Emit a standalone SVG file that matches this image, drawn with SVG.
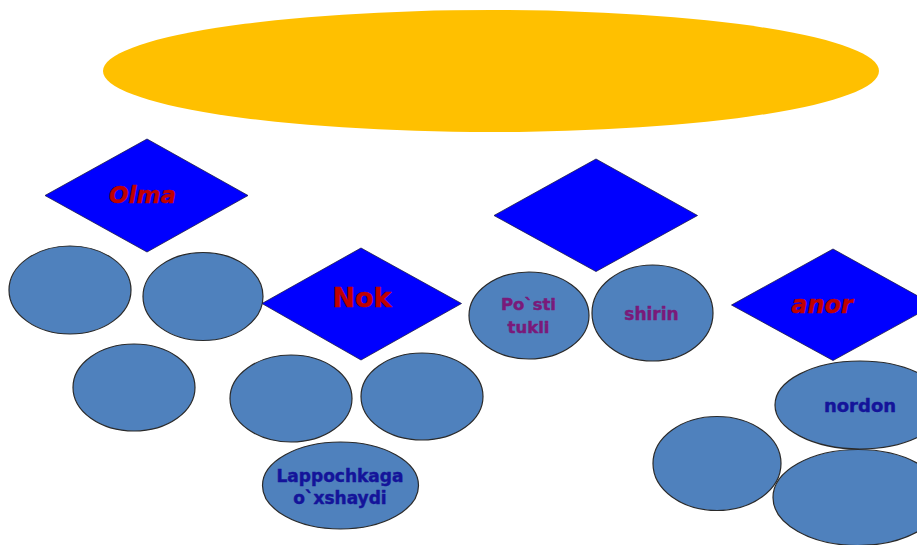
<svg xmlns="http://www.w3.org/2000/svg" width="917" height="545" viewBox="0 0 917 545">
<style>
.dia{fill:#0000ff;stroke:#1a1a4a;stroke-width:0.8}
.ell{fill:#4f81bd;stroke:#2a2a2a;stroke-width:1.2}
.t{font-family:"DejaVu Sans",Verdana,sans-serif;font-weight:bold;text-anchor:middle;stroke-width:0.45;stroke-linejoin:round}
.red{fill:#c00000;stroke:#c00000}
.blue{fill:#14149a;stroke:#14149a}
.pur{fill:#7a1a7a;stroke:#7a1a7a}
</style>
<rect width="917" height="545" fill="#ffffff"/>
<g id="top"><ellipse cx="491" cy="71" rx="388" ry="61" fill="#ffc000"/></g>
<g id="connectors"></g>
<g id="olma">
<polygon class="dia" points="45,195.5 147,139 248,195.5 147,252"/>
<text class="t red" x="142.5" y="203" font-size="23" font-style="italic">Olma</text>
</g>
<g id="olma-e1"><ellipse class="ell" cx="70" cy="290" rx="61" ry="44"/></g>
<g id="olma-e2"><ellipse class="ell" cx="203" cy="296.5" rx="60" ry="44"/></g>
<g id="olma-e3"><ellipse class="ell" cx="134" cy="387.5" rx="61" ry="43.5"/></g>
<g id="nok">
<polygon class="dia" points="262,303.5 361,248 461.5,303.5 361,360"/>
<text class="t red" x="362" y="307" font-size="27">Nok</text>
</g>
<g id="nok-e1"><ellipse class="ell" cx="291" cy="398.5" rx="61" ry="43.5"/></g>
<g id="nok-e2"><ellipse class="ell" cx="422" cy="396.5" rx="61" ry="43.5"/></g>
<g id="nok-e3">
<ellipse class="ell" cx="340.5" cy="485.5" rx="78" ry="43.5"/>
<text class="t blue" x="340" y="481.5" font-size="17">Lappochkaga</text>
<text class="t blue" x="340" y="503.5" font-size="17">o`xshaydi</text>
</g>
<g id="mid">
<polygon class="dia" points="494,215.5 596,159 697.5,215.5 596,271.5"/>
</g>
<g id="mid-e1">
<ellipse class="ell" cx="529" cy="315.5" rx="60" ry="43.5"/>
<text class="t pur" x="528.5" y="310" font-size="16.5">Po`sti</text>
<text class="t pur" x="528.5" y="333" font-size="16.5">tukli</text>
</g>
<g id="mid-e2">
<ellipse class="ell" cx="652.5" cy="313" rx="60.5" ry="48"/>
<text class="t pur" x="651.5" y="320" font-size="17">shirin</text>
</g>
<g id="anor">
<polygon class="dia" points="731.5,305 833,249 934,305 833,360.5"/>
<text class="t red" x="822" y="313" font-size="24" font-style="italic">anor</text>
</g>
<g id="anor-e1">
<ellipse class="ell" cx="860" cy="405" rx="85" ry="44"/>
<text class="t blue" x="860" y="411.5" font-size="18">nordon</text>
</g>
<g id="anor-e2"><ellipse class="ell" cx="717" cy="463.5" rx="64" ry="47"/></g>
<g id="anor-e3"><ellipse class="ell" cx="858" cy="497.5" rx="85" ry="48"/></g>
</svg>
